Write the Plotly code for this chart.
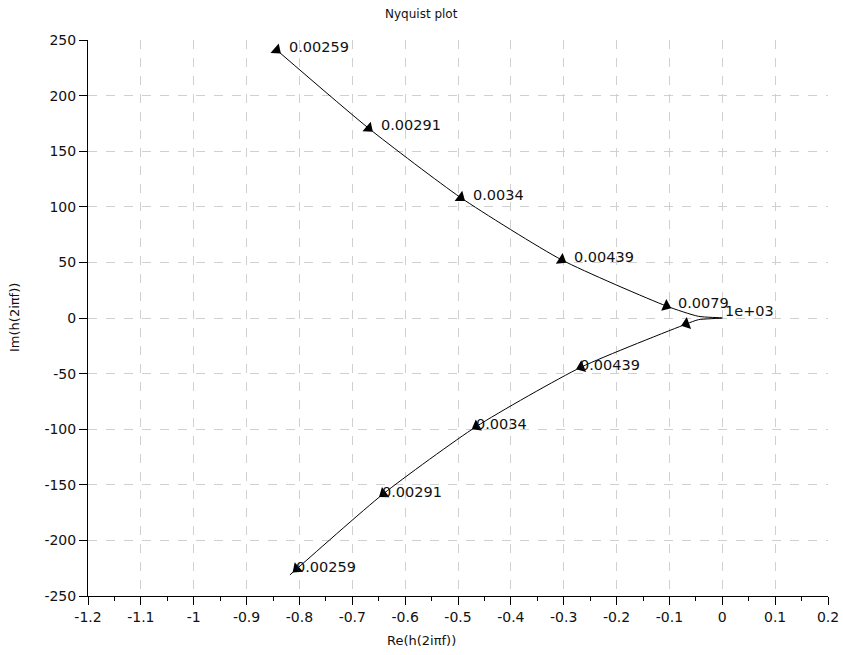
import math
import plotly.graph_objects as go

# ---- data ----
# Nyquist curve: upper branch (positive frequencies) followed by lower branch
curve_re = [-0.843, -0.669, -0.495, -0.304, -0.106, -0.045, 0.0,
            -0.045, -0.068, -0.267, -0.465, -0.641, -0.805, -0.818]
curve_im = [241.0, 170.6, 108.3, 52.3, 10.8, 1.5, 0.0,
            -1.5, -5.4, -44.2, -97.5, -158.0, -225.6, -231.0]
# which curve points carry a direction arrow
arrow_flag = [1, 1, 1, 1, 1, 0, 0,
              0, 1, 1, 1, 1, 1, 0]

# frequency labels
upper_labels = ["0.00259", "0.00291", "0.0034", "0.00439", "0.0079"]
upper_re = [-0.843, -0.669, -0.495, -0.304, -0.106]
upper_im = [241.0, 170.6, 108.3, 52.3, 10.8]
end_label = "1e+03"
end_re, end_im = 0.0, 0.0
lower_labels = ["0.00439", "0.0034", "0.00291", "0.00259"]
lower_re = [-0.267, -0.465, -0.641, -0.805]
lower_im = [-44.2, -97.5, -158.0, -225.6]

x_ticks = [-1.2, -1.1, -1.0, -0.9, -0.8, -0.7, -0.6, -0.5, -0.4, -0.3, -0.2, -0.1, 0.0, 0.1, 0.2]
x_ticktext = ["-1.2", "-1.1", "-1", "-0.9", "-0.8", "-0.7", "-0.6", "-0.5", "-0.4", "-0.3",
              "-0.2", "-0.1", "0", "0.1", "0.2"]
y_ticks = [-250, -200, -150, -100, -50, 0, 50, 100, 150, 200, 250]
y_ticktext = ["-250", "-200", "-150", "-100", "-50", "0", "50", "100", "150", "200", "250"]

X_RANGE = [-1.2, 0.2]
Y_RANGE = [-250, 250]

FONT = "DejaVu Sans"
L, R, T, B = 88, 15, 40, 59
W, H = 843, 655
pw, ph = W - L - R, H - T - B
sx = pw / (X_RANGE[1] - X_RANGE[0])
sy = ph / (Y_RANGE[1] - Y_RANGE[0])

# arrow orientation (clockwise from up) following the direction of travel
angles = []
for i in range(len(curve_re)):
    j0, j1 = (0, 1) if i == 0 else (i - 1, i)
    dx = curve_re[j1] - curve_re[j0]
    dy = curve_im[j1] - curve_im[j0]
    angles.append(math.degrees(math.atan2(dx * sx, dy * sy)))

fig = go.Figure()
fig.add_trace(go.Scatter(
    x=curve_re, y=curve_im, mode="lines",
    line=dict(color="black", width=1, shape="spline", smoothing=0.6),
    hoverinfo="skip", showlegend=False,
))
mk_x = [x for x, f in zip(curve_re, arrow_flag) if f]
mk_y = [y for y, f in zip(curve_im, arrow_flag) if f]
mk_a = [a for a, f in zip(angles, arrow_flag) if f]
fig.add_trace(go.Scatter(
    x=mk_x, y=mk_y, mode="markers",
    marker=dict(symbol="triangle-up", size=11, color="black", angle=mk_a,
                line=dict(width=0)),
    hoverinfo="skip", showlegend=False,
))

lab_font = dict(family=FONT, size=14.5, color="#111")
annotations = []
for t, x, y in zip(upper_labels, upper_re, upper_im):
    annotations.append(dict(x=x, y=y, xref="x", yref="y", text=t, showarrow=False,
                            xanchor="left", yanchor="middle", xshift=10, yshift=3,
                            font=lab_font))
annotations.append(dict(x=end_re, y=end_im, xref="x", yref="y", text=end_label,
                        showarrow=False, xanchor="left", yanchor="middle",
                        xshift=1, yshift=7, font=lab_font))
for t, x, y in zip(lower_labels, lower_re, lower_im):
    annotations.append(dict(x=x, y=y, xref="x", yref="y", text=t, showarrow=False,
                            xanchor="left", yanchor="middle", xshift=-3, yshift=2,
                            font=lab_font))

annotations.append(dict(text="Re(h(2i\u03c0f))", xref="paper", yref="paper",
                        x=(W / 2 - L) / pw, y=-(640 - (H - B)) / ph,
                        xanchor="center", yanchor="middle", showarrow=False,
                        font=dict(family=FONT, size=13, color="#111")))
annotations.append(dict(text="Im(h(2i\u03c0f))", xref="paper", yref="paper",
                        x=(14 - L) / pw, y=0.5, textangle=-90,
                        xanchor="center", yanchor="middle", showarrow=False,
                        font=dict(family=FONT, size=13, color="#111")))
annotations.append(dict(text="Nyquist plot", xref="paper", yref="paper",
                        x=(W / 2 - L) / pw, y=1 + (T - 14) / ph,
                        xanchor="center", yanchor="middle", showarrow=False,
                        font=dict(family=FONT, size=12, color="#111")))

axis_common = dict(
    showgrid=True, gridcolor="#d0d0d0", griddash="dash", gridwidth=1,
    showline=True, linecolor="black", linewidth=1, mirror=False,
    ticks="outside", ticklen=8, tickcolor="black", tickwidth=1,
    zeroline=False, automargin=False,
    tickfont=dict(family=FONT, size=14, color="#111"),
)

fig.update_layout(
    width=W, height=H,
    margin=dict(l=L, r=R, t=T, b=B),
    paper_bgcolor="white", plot_bgcolor="white",
    xaxis=dict(range=X_RANGE, tickvals=x_ticks, ticktext=x_ticktext,
               minor=dict(dtick=0.05, tick0=0, ticks="outside", ticklen=4,
                          tickcolor="black", showgrid=False),
               **axis_common),
    yaxis=dict(range=Y_RANGE, tickvals=y_ticks, ticktext=y_ticktext, **axis_common),
    annotations=annotations,
)

fig.write_html("out.html", config={"displayModeBar": False},
               post_script="document.body.style.margin='0';")
